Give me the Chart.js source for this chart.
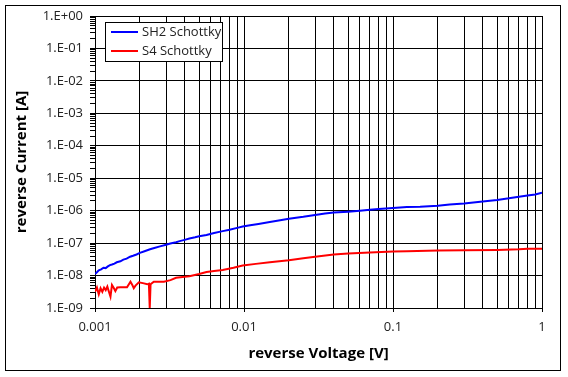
<!DOCTYPE html>
<html><head><meta charset="utf-8">
<script src="https://cdn.jsdelivr.net/npm/chart.js@4.4.1/dist/chart.umd.min.js"></script>
<style>html,body{margin:0;padding:0;background:#fff;}#wrap{position:relative;width:568px;height:377px;}</style>
</head><body><div id="wrap"><canvas id="c" width="568" height="377"></canvas></div>
<script>
const seriesNames = ['SH2 Schottky', 'S4 Schottky'];
const sh2Voltage = [0.001,0.00103,0.00106,0.0011,0.00114,0.00118,0.00122,0.00126,0.0013,0.00135,0.0014,0.00148,0.00155,0.00163,0.00172,0.0018,0.0019,0.002,0.00215,0.00234,0.0025,0.00273,0.003,0.0032,0.0035,0.0037,0.004,0.0043,0.0047,0.005,0.0056,0.0063,0.0072,0.008,0.009,0.0098,0.011,0.0125,0.0149,0.0179,0.02,0.025,0.03,0.035,0.04,0.05,0.06,0.07,0.08,0.1,0.124,0.152,0.2,0.24,0.3,0.4,0.5,0.6,0.7,0.8,0.9,1.0];
const sh2Current = [1.12e-8,1.26e-8,1.45e-8,1.55e-8,1.74e-8,1.70e-8,1.91e-8,2.09e-8,2.19e-8,2.34e-8,2.57e-8,2.75e-8,3.09e-8,3.31e-8,3.80e-8,4.07e-8,4.47e-8,5.01e-8,5.62e-8,6.46e-8,7.08e-8,7.94e-8,8.91e-8,9.77e-8,1.07e-7,1.15e-7,1.26e-7,1.38e-7,1.51e-7,1.62e-7,1.78e-7,2.04e-7,2.34e-7,2.57e-7,2.95e-7,3.24e-7,3.55e-7,3.89e-7,4.47e-7,5.13e-7,5.62e-7,6.46e-7,7.41e-7,8.13e-7,8.71e-7,9.33e-7,1.00e-6,1.07e-6,1.12e-6,1.20e-6,1.29e-6,1.32e-6,1.41e-6,1.55e-6,1.66e-6,1.91e-6,2.14e-6,2.40e-6,2.69e-6,2.95e-6,3.16e-6,3.55e-6];
const s4Voltage = [0.001,0.00103,0.00106,0.00109,0.00112,0.00115,0.00118,0.00121,0.00124,0.00127,0.0013,0.00134,0.00137,0.00141,0.00148,0.00156,0.00164,0.00173,0.00178,0.00182,0.00187,0.00197,0.00213,0.00224,0.0023,0.00233,0.00236,0.00248,0.00261,0.0029,0.00321,0.0035,0.004,0.0043,0.005,0.0056,0.0063,0.0072,0.0085,0.0098,0.012,0.0149,0.02,0.025,0.03,0.04,0.05,0.07,0.1,0.124,0.2,0.3,0.5,0.7,0.8,1.0];
const s4Current = [3.16e-9,4.27e-9,2.63e-9,4.07e-9,3.16e-9,4.27e-9,3.55e-9,4.57e-9,3.16e-9,2.24e-9,5.13e-9,4.07e-9,3.31e-9,4.27e-9,4.37e-9,4.37e-9,4.37e-9,6.46e-9,5.13e-9,4.07e-9,4.90e-9,6.17e-9,5.75e-9,5.37e-9,5.62e-9,1.0e-9,5.37e-9,6.46e-9,6.46e-9,6.46e-9,7.24e-9,8.51e-9,9.12e-9,9.55e-9,1.12e-8,1.29e-8,1.38e-8,1.48e-8,1.74e-8,2.04e-8,2.29e-8,2.57e-8,2.95e-8,3.39e-8,3.80e-8,4.47e-8,4.79e-8,5.13e-8,5.50e-8,5.62e-8,5.89e-8,6.03e-8,6.17e-8,6.46e-8,6.76e-8,6.76e-8];
const xDecades = [0.001, 0.01, 0.1, 1];
const xTickLabels = ['0.001', '0.01', '0.1', '1'];
const yDecades = [1e-9, 1e-8, 1e-7, 1e-6, 1e-5, 1e-4, 1e-3, 1e-2, 1e-1, 1];
const yTickLabels = ['1.E-09','1.E-08','1.E-07','1.E-06','1.E-05','1.E-04','1.E-03','1.E-02','1.E-01','1.E+00'];
const seriesColors = ['#0000ff', '#ff0000'];

function toPoints(xs, ys) { return xs.map((x, i) => ({x: x, y: ys[i]})); }
function buildTicks(decades, labels) {
  const t = [];
  decades.forEach((d, i) => {
    t.push({value: d, major: true, label: labels[i]});
    if (i < decades.length - 1) {
      for (let m = 2; m <= 9; m++) t.push({value: d * m, major: false, label: ''});
    }
  });
  return t;
}
const xTicks = buildTicks(xDecades, xTickLabels);
const yTicks = buildTicks(yDecades, yTickLabels);

const FONT = '"Open Sans", "DejaVu Sans", sans-serif';

const frame = {
  id: 'frame',
  afterDraw(chart) {
    const ctx = chart.ctx, a = chart.chartArea;
    ctx.save();
    const lx = a.left + 10, ly = a.top + 6;
    ctx.fillStyle = '#fff';
    ctx.fillRect(lx, ly, 118, 39);
    ctx.strokeStyle = '#000';
    ctx.lineWidth = 1;
    ctx.strokeRect(lx + 0.5, ly + 0.5, 117, 39);
    ctx.font = '13px ' + FONT;
    ctx.textBaseline = 'middle';
    chart.data.datasets.forEach((ds, i) => {
      const y = ly + 10 + i * 19;
      ctx.strokeStyle = ds.borderColor;
      ctx.lineWidth = 2;
      ctx.beginPath(); ctx.moveTo(lx + 6, y); ctx.lineTo(lx + 33, y); ctx.stroke();
      ctx.fillStyle = '#222';
      ctx.fillText(ds.label, lx + 37, y);
    });
    ctx.strokeStyle = '#000';
    ctx.lineWidth = 1;
    ctx.strokeRect(5.5, 5.5, 555, 365);
    ctx.restore();
  }
};

new Chart(document.getElementById('c'), {
  type: 'line',
  data: {
    datasets: [
      {label: seriesNames[0], data: toPoints(sh2Voltage, sh2Current), borderColor: seriesColors[0], backgroundColor: seriesColors[0], borderWidth: 2, pointRadius: 0, tension: 0, fill: false},
      {label: seriesNames[1], data: toPoints(s4Voltage, s4Current), borderColor: seriesColors[1], backgroundColor: seriesColors[1], borderWidth: 2, pointRadius: 0, tension: 0, fill: false}
    ]
  },
  options: {
    responsive: false,
    devicePixelRatio: 1,
    animation: false,
    layout: {padding: {top: 16, right: 26, left: 0, bottom: 0}},
    plugins: {legend: {display: false}, tooltip: {enabled: false}},
    scales: {
      x: {
        type: 'logarithmic',
        min: 0.001, max: 1,
        afterBuildTicks: (s) => { s.ticks = xTicks.map(t => ({value: t.value, major: t.major})); },
        afterFit: (s) => { s.height = 69; },
        ticks: {
          autoSkip: false, maxRotation: 0, padding: 7, color: '#222',
          font: {family: FONT, size: 13},
          callback: (v, i) => xTicks[i] ? xTicks[i].label : ''
        },
        grid: {
          color: '#000', lineWidth: 1, drawTicks: true, tickLength: 4,
          tickColor: (c) => (c.tick && c.tick.major) ? '#000' : 'rgba(0,0,0,0)'
        },
        border: {display: true, color: '#000', width: 1},
        title: {display: true, text: 'reverse Voltage [V]', color: '#000', font: {family: FONT, size: 15, weight: 'bold'}, padding: {top: 0, bottom: 14}}
      },
      y: {
        type: 'logarithmic',
        min: 1e-9, max: 1,
        afterBuildTicks: (s) => { s.ticks = yTicks.map(t => ({value: t.value, major: t.major})); },
        afterFit: (s) => { s.width = 95; },
        ticks: {
          autoSkip: false, padding: 7, color: '#222',
          font: {family: FONT, size: 13},
          callback: (v, i) => yTicks[i] ? yTicks[i].label : ''
        },
        grid: {
          lineWidth: 1, drawTicks: true, tickLength: 5, tickColor: '#000',
          color: (c) => (c.tick && c.tick.major) ? '#000' : 'rgba(0,0,0,0)'
        },
        border: {display: true, color: '#000', width: 1},
        title: {display: true, text: 'reverse Current [A]', color: '#000', font: {family: FONT, size: 15, weight: 'bold'}, padding: {top: 13, bottom: 0}}
      }
    }
  },
  plugins: [frame]
});
</script>
</body></html>
